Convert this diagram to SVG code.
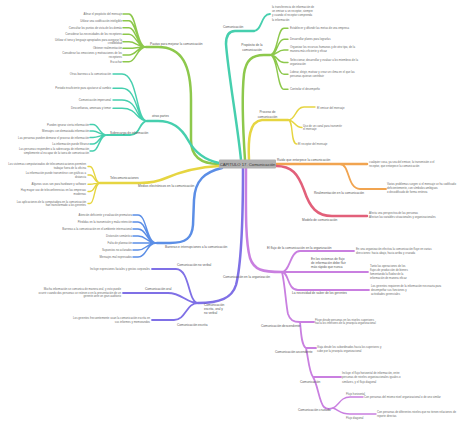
<svg xmlns="http://www.w3.org/2000/svg" width="474" height="425" viewBox="0 0 474 425">
<style>
text{font-family:"Liberation Sans",Arial,sans-serif;}
.t{font-size:2.8px;fill:#6a6a6a;}
.e{text-anchor:end;}
.m{text-anchor:middle;}
.l{font-size:3.2px;fill:#555;}
path{fill:none;stroke-linecap:round;}
.g{stroke:#8dc84c;}
.tq{stroke:#46cfae;}
.y{stroke:#e6d541;}
.o{stroke:#f1a450;}
.r{stroke:#e2607a;}
.b{stroke:#5b8ee6;}
.i{stroke:#7f70e6;}
.v{stroke:#c97fe0;}
.w1{stroke-width:2.5;}
.w2{stroke-width:1.8;}
.w3{stroke-width:1.4;}
</style>
<rect width="474" height="425" fill="#fff"/>
<g id="connectors">
<path class="g w1" d="M219,164 C205,164 191,160 191,140 L191,100 C191,65 182,47 158,47 L146,47"/>
<path class="g w3" d="M146,47 C137,47 136,14 129,14 L123,14 M146,47 C137,47 136,20.7 129,20.7 L123,20.7 M146,47 C137,47 136,27.7 129,27.7 L123,27.7 M146,47 C137,47 136,34.3 129,34.3 L123,34.3 M146,47 C137,47 136,41.7 129,41.7 L123,41.7 M146,47 C137,47 136,48.3 129,48.3 L123,48.3 M146,47 C137,47 136,55 129,55 L123,55 M146,47 C137,47 136,61.7 129,61.7 L123,61.7"/>
<path class="g w1" d="M245,160 C243,130 242,92 244,74 C246,60 252,55 264,55 L270,55"/>
<path class="g w3" d="M270,55 C278,55 277,28.3 284,28.3 L288,28.3 M270,55 C278,55 277,39.3 284,39.3 L288,39.3 M270,55 C278,55 277,50 284,50 L288,50 M270,55 C278,55 277,62.5 284,62.5 L288,62.5 M270,55 C278,55 277,74.3 284,74.3 L288,74.3 M270,55 C278,55 277,89.3 284,89.3 L288,89.3"/>
<path class="tq w1" d="M241,160 C238,128 228,72 226,44 C226,36 229,31 235,31 L254,31"/>
<path class="tq w2" d="M254,31 C262,31 261,14 270,14"/>
<path class="tq w1" d="M219,163 C205,160 195,153 188,140 C181,127 172,121 158,121 L147,121"/>
<path class="tq w3" d="M147,121 C136,121 138,74 122,74 L113,74 M147,121 C136,121 138,88.3 122,88.3 L113,88.3 M147,121 C136,121 138,100 122,100 L113,100 M147,121 C136,121 138,108.3 122,108.3 L113,108.3"/>
<path class="tq w2" d="M147,121 C139,121 141,135 130,135 L107,135"/>
<path class="tq w3" d="M107,135 C99,135 99,124.5 93,124.5 L90,124.5 M107,135 C99,135 99,131 93,131 L90,131 M107,135 C99,135 99,137.5 93,137.5 L90,137.5 M107,135 C99,135 99,144 93,144 L90,144 M107,135 C99,135 99,151 93,151 L90,151"/>
<path class="y w1" d="M249,160 C248,140 249,121 262,120 L288,120"/>
<path class="y w3" d="M288,120 C296,120 295,107 304,107 L315,107 M288,120 C295,120 294,127.5 302,127.5 M288,120 C294,120 290,144 297,144"/>
<path class="y w1" d="M219,166 C200,167 180,172 166,178 C157,182 150,183 140,183 L100,183"/>
<path class="y w3" d="M100,183 C94,183 95,166.5 90,166.5 L88,166.5 M100,183 C94,183 95,175 90,175 L88,175 M100,183 C94,183 95,184.3 90,184.3 L88,184.3 M100,183 C94,183 95,191.5 90,191.5 L88,191.5 M100,183 C94,183 95,203.5 90,203.5 L88,203.5"/>
<path class="o w1" d="M276,164 L367,164"/>
<path class="o w2" d="M340,164 C350,164 347,189 360,189 L386,189"/>
<path class="r w1" d="M276,166 C292,166 298,174 304,190 C310,208 317,216 332,216 L367,216"/>
<path class="b w1" d="M222,168 C205,172 195,180 194,200 L193,225 C192,238 186,243 170,243 L157,243"/>
<path class="b w3" d="M157,243 C146,243 147,215 138,215 L133,215 M157,243 C146,243 147,222 138,222 L133,222 M157,243 C146,243 147,229 138,229 L133,229 M157,243 C146,243 147,236 138,236 L133,236 M157,243 L133,243 M157,243 C146,243 147,250 138,250 L133,250 M157,243 C146,243 147,257 138,257 L133,257"/>
<path class="i w1" d="M243,168 C243,200 242,262 236,285 C232,298 220,303 198,303"/>
<path class="i w2" d="M198,303 C188,303 190,269 176,269 L152,269 M198,303 C186,303 182,293 168,293 L123,293 M198,303 C186,303 186,320 174,320 L152,320"/>
<path class="v w1" d="M246,168 C246,205 245,240 250,258 C254,270 262,272 282,272"/>
<path class="v w2" d="M282,272 C290,272 290,251 300,251 L354,251 M282,272 L368,272 M282,272 C289,272 287,290 298,290 L369,290 M282,272 C285,285 286,305 288,314 C290,320 293,322 300,322 L314,322 M300,322 C301,330 301,345 306,348 L316,348 M306,348 C308,356 309,372 313,377 L341,377 M313,377 C318,385 319,402 324,407 C327,410 330,409 333,408"/>
<path class="v w3" d="M333,408 C339,406 340,397 350,397 L363,397 M333,408 C339,410 340,414 350,414 L376,414"/>
</g>
<g id="center">
<rect x="219" y="159.5" width="57" height="9" rx="1" fill="#b2b2b2"/>
<text x="247.5" y="165.6" class="m" font-size="4.2" fill="#333">CAPÍTULO 17. Comunicación</text>
</g>
<g id="pautas">
<text x="150" y="45" class="l">Pautas para mejorar la comunicación</text>
<text x="122" y="15" class="t e">Afinar el propósito del mensaje</text>
<text x="122" y="21.7" class="t e">Utilizar una codificación inteligible</text>
<text x="122" y="28.7" class="t e">Consultar los puntos de vista de los demás</text>
<text x="122" y="35.3" class="t e">Considerar las necesidades de los receptores</text>
<text x="122" y="41" class="t e">Utilizar el tono y lenguaje apropiados para asegurar la</text>
<text x="122" y="44.4" class="t e">credibilidad</text>
<text x="122" y="49.3" class="t e">Obtener realimentación</text>
<text x="122" y="53.7" class="t e">Considerar las emociones y motivaciones de los</text>
<text x="122" y="57.5" class="t e">receptores</text>
<text x="122" y="62.7" class="t e">Escuchar</text>
</g>
<g id="comunicacion">
<text x="223" y="28" class="l">Comunicación</text>
<text x="272" y="8" class="t">la transferencia de información de</text>
<text x="272" y="12.2" class="t">un emisor a un receptor, siempre</text>
<text x="272" y="16.4" class="t">y cuando el receptor comprenda</text>
<text x="272" y="20.6" class="t">la información</text>
</g>
<g id="proposito">
<text x="252" y="46" class="l m">Propósito de la</text>
<text x="252" y="50.5" class="l m">comunicación</text>
<text x="290" y="29.3" class="t">Establecer y difundir las metas de una empresa</text>
<text x="290" y="40.3" class="t">Desarrollar planes para lograrlas</text>
<text x="290" y="47.5" class="t">Organizar los recursos humanos y de otro tipo, de la</text>
<text x="290" y="51.5" class="t">manera más eficiente y eficaz</text>
<text x="290" y="61" class="t">Seleccionar, desarrollar y evaluar a los miembros de la</text>
<text x="290" y="65" class="t">organización</text>
<text x="290" y="72.7" class="t">Liderar, dirigir, motivar y crear un clima en el que las</text>
<text x="290" y="76.8" class="t">personas quieran contribuir</text>
<text x="290" y="90.3" class="t">Controlar el desempeño</text>
</g>
<g id="proceso">
<text x="267.5" y="113" class="l m">Proceso de</text>
<text x="267.5" y="117.5" class="l m">comunicación</text>
<text x="317" y="108.8" class="t">El emisor del mensaje</text>
<text x="303" y="126.7" class="t">Uso de un canal para transmitir</text>
<text x="303" y="130.3" class="t">el mensaje</text>
<text x="298" y="145" class="t">El receptor del mensaje</text>
</g>
<g id="ruido">
<text x="277" y="161" class="l">Ruido que entorpece la comunicación</text>
<text x="369" y="162.7" class="t">cualquier cosa, ya sea del emisor, la transmisión o el</text>
<text x="369" y="166.7" class="t">receptor, que entorpece la comunicación</text>
<text x="387" y="185" class="t">Varios problemas surgen si el mensaje se ha codificado</text>
<text x="387" y="189" class="t">deficientemente, con símbolos ambiguos</text>
<text x="387" y="193" class="t">o decodificado de forma errónea</text>
<text x="314" y="194" class="l">Realimentación en la comunicación</text>
</g>
<g id="modelo">
<text x="302" y="220.5" class="l">Modelo de comunicación</text>
<text x="369" y="214.3" class="t">Afecta una perspectiva de las personas</text>
<text x="369" y="218.3" class="t">Afectan las variables situacionales y organizacionales</text>
</g>
<g id="otras">
<text x="152" y="117" class="l">otras partes</text>
<text x="111" y="75" class="t e">Otras barreras a la comunicación</text>
<text x="111" y="89.3" class="t e">Periodo insuficiente para ajustarse al cambio</text>
<text x="111" y="101" class="t e">Comunicación impersonal</text>
<text x="111" y="109.3" class="t e">Desconfianza, amenaza y temor</text>
<text x="110" y="134" class="l">Sobrecarga de información</text>
<text x="89" y="125.5" class="t e">Pueden ignorar cierta información</text>
<text x="89" y="132" class="t e">Mensajes con demasiada información</text>
<text x="89" y="138.5" class="t e">Las personas pueden demorar el proceso de información</text>
<text x="89" y="145" class="t e">La información puede filtrarse</text>
<text x="89" y="150.2" class="t e">Las personas responden a la sobrecarga de información</text>
<text x="89" y="154" class="t e">simplemente al escapar de la tarea de comunicación</text>
</g>
<g id="medios">
<text x="138" y="187.3" class="l">Medios electrónicos en la comunicación</text>
<text x="110" y="179.3" class="l">Telecomunicaciones</text>
<text x="86" y="165.2" class="t e">Los sistemas computarizados de telecomunicaciones permiten</text>
<text x="86" y="169" class="t e">trabajar fuera de la oficina</text>
<text x="86" y="174.3" class="t e">La información puede transmitirse con gráficas a</text>
<text x="86" y="178" class="t e">distancia</text>
<text x="86" y="185.3" class="t e">Algunos usos son para hardware y software</text>
<text x="86" y="191" class="t e">Hay mayor uso de teleconferencias en las empresas</text>
<text x="86" y="194.7" class="t e">modernas</text>
<text x="86" y="202.7" class="t e">Las aplicaciones de la computadora en la comunicación</text>
<text x="86" y="206.3" class="t e">han transformado a los gerentes</text>
</g>
<g id="barreras">
<text x="165" y="248" class="l">Barreras e interrupciones a la comunicación</text>
<text x="132" y="216" class="t e">Atención deficiente y evaluación prematura</text>
<text x="132" y="223" class="t e">Pérdidas en la transmisión y mala retención</text>
<text x="132" y="230" class="t e">Barreras a la comunicación en el ambiente internacional</text>
<text x="132" y="237" class="t e">Distorsión semántica</text>
<text x="132" y="244" class="t e">Falta de planeación</text>
<text x="132" y="251" class="t e">Supuestos no aclarados</text>
<text x="132" y="258" class="t e">Mensajes mal expresados</text>
</g>
<g id="escrita-oral">
<text x="204" y="306" class="l">Comunicación</text>
<text x="204" y="310" class="l">escrita, oral y</text>
<text x="204" y="314.2" class="l">no verbal</text>
<text x="177" y="266" class="l">Comunicación no verbal</text>
<text x="150" y="270" class="t e">Incluye expresiones faciales y gestos corporales</text>
<text x="145" y="290" class="l">Comunicación oral</text>
<text x="121" y="290" class="t e">Mucha información se comunica de manera oral, y esto puede</text>
<text x="121" y="293.7" class="t e">ocurrir cuando dos personas se reúnen o en la presentación de un</text>
<text x="121" y="297.3" class="t e">gerente ante un gran auditorio</text>
<text x="177" y="325.5" class="l">Comunicación escrita</text>
<text x="150" y="318.7" class="t e">Los gerentes frecuentemente usan la comunicación escrita en</text>
<text x="150" y="322.7" class="t e">sus informes y memorandos</text>
</g>
<g id="organizacion">
<text x="223" y="277.5" class="l">Comunicación en la organización</text>
<text x="267" y="248.5" class="l">El flujo de la comunicación en la organización</text>
<text x="356" y="250" class="t">En una organización efectiva la comunicación fluye en varias</text>
<text x="356" y="254" class="t">direcciones: hacia abajo, hacia arriba y cruzada</text>
<text x="311" y="260" class="l">En los sistemas de flujo</text>
<text x="311" y="264" class="l">de información debe fluir</text>
<text x="311" y="268" class="l">más rápido que nunca</text>
<text x="370" y="267" class="t">Tanto las operaciones de los</text>
<text x="370" y="271" class="t">flujos de producción de bienes</text>
<text x="370" y="275" class="t">fomentando la fluidez de la</text>
<text x="370" y="279" class="t">información de manera eficaz</text>
<text x="292" y="293.5" class="l">La necesidad de saber de los gerentes</text>
<text x="371" y="287" class="t">Los gerentes requieren de la información necesaria para</text>
<text x="371" y="291" class="t">desempeñar sus funciones y</text>
<text x="371" y="294.7" class="t">actividades gerenciales</text>
<text x="261" y="326.5" class="l">Comunicación descendente</text>
<text x="315" y="320.5" class="t">Fluye desde personas en los niveles superiores</text>
<text x="315" y="324.3" class="t">hacia los inferiores de la jerarquía organizacional</text>
<text x="275" y="353" class="l">Comunicación ascendente</text>
<text x="317" y="348" class="t">Viaja desde los subordinados hacia los superiores y</text>
<text x="317" y="352" class="t">sube por la jerarquía organizacional</text>
<text x="342" y="374" class="t">Incluye el flujo horizontal de información, entre</text>
<text x="342" y="378.3" class="t">personas de niveles organizacionales iguales o</text>
<text x="342" y="382.6" class="t">similares, y el flujo diagonal</text>
<text x="300" y="383" class="l">Comunicación</text>
<text x="298" y="411" class="l">Comunicación cruzada</text>
<text x="346" y="395" class="t">Flujo horizontal</text>
<text x="364" y="398" class="t">Con personas del mismo nivel organizacional o de uno similar</text>
<text x="346" y="419" class="t">Flujo diagonal</text>
<text x="377" y="413" class="t">Con personas de diferentes niveles que no tienen relaciones de</text>
<text x="377" y="416.6" class="t">reporte directas</text>
</g>
</svg>
